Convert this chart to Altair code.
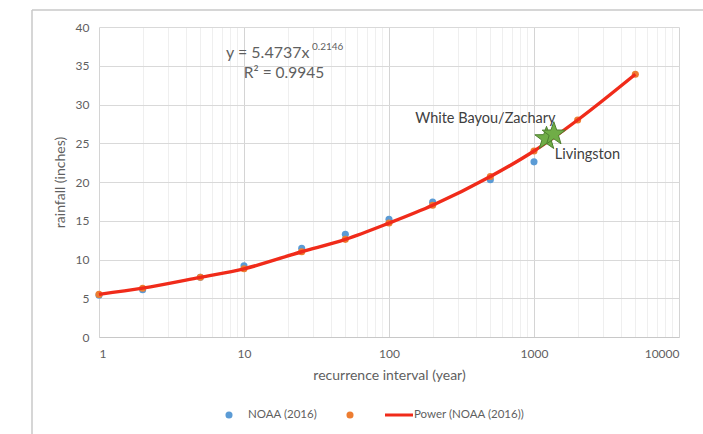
import altair as alt
import pandas as pd

# ---- data ----
intervals = [1, 2, 5, 10, 25, 50, 100, 200, 500, 1000]
noaa_rainfall = [5.4, 6.1, 7.7, 9.2, 11.45, 13.25, 15.2, 17.4, 20.3, 22.6]

fit_intervals = [1, 2, 5, 10, 25, 50, 100, 200, 500, 1000, 2000, 5000]
fit_rainfall = [5.5, 6.3, 7.7, 8.8, 11.0, 12.6, 14.7, 17.0, 20.7, 24.0, 28.0, 33.9]

site_names = ["White Bayou/Zachary", "Livingston"]
site_intervals = [1220, 1370]
site_rainfall = [25.6, 26.2]

major_x_ticks = [1, 10, 100, 1000, 10000]
minor_x_ticks = [m * d for d in [1, 10, 100, 1000] for m in range(2, 10)]
y_ticks = [0, 5, 10, 15, 20, 25, 30, 35, 40]

equation_text = "y = 5.4737x"
equation_exp = "0.2146"
r2_text = "R² = 0.9945"
legend_labels = ["NOAA (2016)", "Power (NOAA (2016))"]

FONT = "Lato"
GRAY = "#5f5f5f"
BLUE = "#5B9BD5"
ORANGE = "#ED7D31"
RED = "#F02B1A"

noaa_df = pd.DataFrame({"interval": intervals, "rainfall": noaa_rainfall})
fit_df = pd.DataFrame({"interval": fit_intervals, "rainfall": fit_rainfall})
site_df = pd.DataFrame({"name": site_names, "interval": site_intervals, "rainfall": site_rainfall})

all_x_ticks = sorted(major_x_ticks + minor_x_ticks)
major_test = "indexof([1,10,100,1000,10000], datum.value) >= 0"

x_enc = alt.X(
    "interval:Q",
    scale=alt.Scale(type="log", domain=[1, 10000]),
    axis=alt.Axis(
        title="recurrence interval (year)",
        values=all_x_ticks,
        format="d",
        labelExpr=f"{major_test} ? datum.label : ''",
        labelOverlap=False,
        labelFont=FONT, labelFontSize=12, labelColor=GRAY,
        labelPadding=11,
        titleFont=FONT, titleFontSize=14, titleColor=GRAY, titleFontWeight="normal",
        titlePadding=9,
        ticks=False,
        domainColor="#c8c8c8",
        grid=True,
        gridColor={"condition": {"test": major_test, "value": "#d4d4d4"}, "value": "#efefef"},
    ),
)
y_enc = alt.Y(
    "rainfall:Q",
    scale=alt.Scale(domain=[0, 40], nice=False),
    axis=alt.Axis(
        title="rainfall (inches)",
        values=y_ticks,
        labelOverlap=False,
        labelFont=FONT, labelFontSize=12, labelColor=GRAY,
        labelPadding=10,
        titleFont=FONT, titleFontSize=14, titleColor=GRAY, titleFontWeight="normal",
        titlePadding=8,
        ticks=False,
        domain=False,
        grid=True,
        gridColor="#d9d9d9",
    ),
)

noaa_pts = alt.Chart(noaa_df).mark_circle(size=50, opacity=1, color=BLUE).encode(x=x_enc, y=y_enc)
fit_pts = alt.Chart(fit_df).mark_circle(size=50, opacity=1, color=ORANGE).encode(x=x_enc, y=y_enc)
fit_line = alt.Chart(fit_df).mark_line(color=RED, strokeWidth=3.4, interpolate="monotone").encode(
    x=x_enc, y=y_enc
)

star_path = ("M0,-1 L0.235,-0.324 L0.951,-0.309 L0.380,0.124 L0.588,0.809 L0,0.4 "
             "L-0.588,0.809 L-0.380,0.124 L-0.951,-0.309 L-0.235,-0.324 Z")
stars = alt.Chart(site_df).mark_point(
    shape=star_path, filled=True, fill="#70AD47", stroke="#4E7F30", strokeWidth=1, size=600, opacity=1
).encode(x=x_enc, y=y_enc)

label1 = alt.Chart(site_df.iloc[[0]]).mark_text(
    align="right", baseline="middle", dx=9, dy=-20, font=FONT, fontSize=14.5, color="#404040"
).encode(x=x_enc, y=y_enc, text="name:N")
label2 = alt.Chart(site_df.iloc[[1]]).mark_text(
    align="left", baseline="middle", dx=1, dy=21, font=FONT, fontSize=14.5, color="#404040"
).encode(x=x_enc, y=y_enc, text="name:N")

one = alt.Data(values=[{}])

eq_main = alt.Chart(one).mark_text(align="left", baseline="middle", font=FONT, fontSize=16, color=GRAY).encode(
    x=alt.value(127), y=alt.value(26), text=alt.value(equation_text))
eq_exp = alt.Chart(one).mark_text(align="left", baseline="middle", font=FONT, fontSize=10, color=GRAY).encode(
    x=alt.value(213), y=alt.value(20), text=alt.value(equation_exp))
eq_r2 = alt.Chart(one).mark_text(align="center", baseline="middle", font=FONT, fontSize=15.5, color=GRAY).encode(
    x=alt.value(185), y=alt.value(46), text=alt.value(r2_text))

leg_y = 388
leg_blue = alt.Chart(one).mark_circle(size=50, opacity=1, color=BLUE).encode(x=alt.value(130), y=alt.value(leg_y))
leg_blue_t = alt.Chart(one).mark_text(align="left", baseline="middle", font=FONT, fontSize=11.5, color=GRAY).encode(
    x=alt.value(149), y=alt.value(leg_y), text=alt.value(legend_labels[0]))
leg_orange = alt.Chart(one).mark_circle(size=50, opacity=1, color=ORANGE).encode(x=alt.value(251), y=alt.value(leg_y))
leg_line = alt.Chart(one).mark_rule(color=RED, strokeWidth=3).encode(
    x=alt.value(286), x2=alt.value(314), y=alt.value(leg_y))
leg_line_t = alt.Chart(one).mark_text(align="left", baseline="middle", font=FONT, fontSize=11.5, color=GRAY).encode(
    x=alt.value(315), y=alt.value(leg_y), text=alt.value(legend_labels[1]))

border_left = alt.Chart(one).mark_rule(color="#c8c8c8", strokeWidth=1.5).encode(
    x=alt.value(-67), y=alt.value(-17), y2=alt.value(410))
border_top = alt.Chart(one).mark_rule(color="#c8c8c8", strokeWidth=1.5).encode(
    x=alt.value(-67), x2=alt.value(610), y=alt.value(-17))

chart = alt.layer(
    noaa_pts, fit_pts, fit_line, stars, label1, label2,
    eq_main, eq_exp, eq_r2,
    leg_blue, leg_blue_t, leg_orange, leg_line, leg_line_t,
    border_left, border_top,
).properties(
    width=580, height=310,
    padding={"left": 99, "top": 27, "right": 24, "bottom": 97},
    autosize=alt.AutoSizeParams(type="none"),
    background="white",
).configure_view(stroke=None)

chart.save("out.html", embed_options={"renderer": "svg", "actions": False})
